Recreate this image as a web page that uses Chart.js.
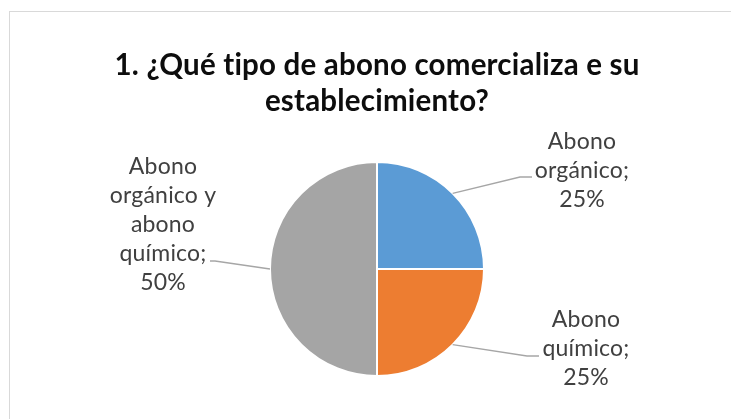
<!DOCTYPE html>
<html>
<head>
<meta charset="utf-8">
<script src="https://cdn.jsdelivr.net/npm/chart.js@4"></script>
<style>
  html, body { margin: 0; padding: 0; background: #fff; }
  body { width: 731px; height: 419px; position: relative; overflow: hidden; }
  #frame { position: absolute; left: 9px; top: 11px; width: 760px; height: 440px; border: 1px solid #d9d9d9; box-sizing: border-box; }
  #wrap { position: absolute; left: 0; top: 0; width: 731px; height: 419px; }
</style>
</head>
<body>
<div id="frame"></div>
<div id="wrap"><canvas id="chart"></canvas></div>
<script>
const titleLines = ['1. ¿Qué tipo de abono comercializa e su', 'establecimiento?'];
const categories = ['Abono orgánico', 'Abono químico', 'Abono orgánico y abono químico'];
const values = [25, 25, 50];
const colors = ['#5B9BD5', '#ED7D31', '#A5A5A5'];

// where each label block sits and where its leader line stops
const labelSpots = [
    { x: 582, y: 171, ex: 532, ey: 177 },
    { x: 586, y: 349, ex: 539, ey: 356 },
    { x: 163, y: 225, ex: 210, ey: 261 }
];

function wrapText(ctx, text, maxWidth) {
    const words = text.split(' ');
    const lines = [];
    let line = '';
    words.forEach(w => {
        const test = line ? line + ' ' + w : w;
        if (line && ctx.measureText(test).width > maxWidth) {
            lines.push(line);
            line = w;
        } else {
            line = test;
        }
    });
    if (line) lines.push(line);
    return lines;
}

// small letter spacing keeps Lato from joining "ti" into a ligature
const noLigatures = {
    id: 'noLigatures',
    beforeDraw(chart) {
        chart.ctx.letterSpacing = '0.2px';
    }
};

const leaderLabels = {
    id: 'leaderLabels',
    afterDatasetsDraw(chart) {
        const ctx = chart.ctx;
        const meta = chart.getDatasetMeta(0);
        ctx.save();
        ctx.font = '23px Lato';
        meta.data.forEach((arc, i) => {
            const spot = labelSpots[i];
            const mid = (arc.startAngle + arc.endAngle) / 2;
            const sx = arc.x + Math.cos(mid) * arc.outerRadius;
            const sy = arc.y + Math.sin(mid) * arc.outerRadius;
            const elbowX = spot.ex < sx ? spot.ex + 5 : spot.ex - 12;
            ctx.strokeStyle = '#a6a6a6';
            ctx.lineWidth = 1.3;
            ctx.beginPath();
            ctx.moveTo(sx, sy);
            ctx.lineTo(elbowX, spot.ey);
            ctx.lineTo(spot.ex, spot.ey);
            ctx.stroke();

            const lines = wrapText(ctx, categories[i] + '; ' + values[i] + '%', 125);
            const lh = 29;
            ctx.fillStyle = '#404040';
            ctx.textAlign = 'center';
            ctx.textBaseline = 'middle';
            const top = spot.y - (lines.length - 1) * lh / 2;
            lines.forEach((l, k) => ctx.fillText(l, spot.x, top + k * lh));
        });
        ctx.restore();
    }
};

new Chart(document.getElementById('chart'), {
    type: 'pie',
    data: {
        labels: categories,
        datasets: [{
            data: values,
            backgroundColor: colors,
            borderColor: '#ffffff',
            borderWidth: 2
        }]
    },
    options: {
        responsive: true,
        maintainAspectRatio: false,
        animation: false,
        layout: { padding: { left: 23, right: 0, top: 0, bottom: 42 } },
        plugins: {
            legend: { display: false },
            tooltip: { enabled: false },
            title: {
                display: true,
                text: titleLines,
                color: '#0d0d0d',
                font: { family: 'Lato', size: 29.5, weight: 'bold', lineHeight: 1.22 },
                padding: { top: 47, bottom: 42 }
            }
        }
    },
    plugins: [noLigatures, leaderLabels]
});
</script>
</body>
</html>
